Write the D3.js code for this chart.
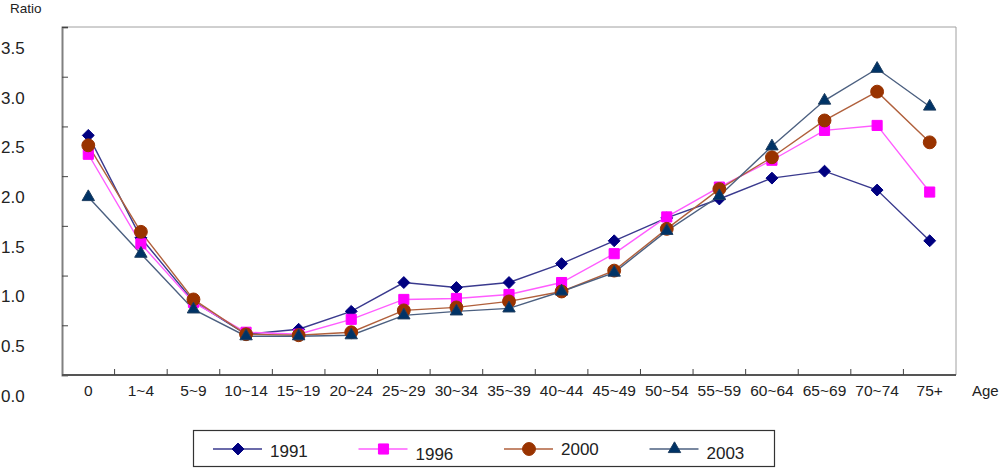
<!DOCTYPE html>
<html lang="en">
<head>
    <meta charset="UTF-8">
    <title>Ratio by age</title>
    <script src="https://d3js.org/d3.v7.min.js"></script>
    <style>
        body { margin: 0; background: #fff; }
        text { font-family: "Liberation Sans", Arial, sans-serif; fill: #222; }
    </style>
</head>
<body>

<script>
    // categories and tick labels
    ages = ["0", "1~4", "5~9", "10~14", "15~19", "20~24", "25~29", "30~34", "35~39",
            "40~44", "45~49", "50~54", "55~59", "60~64", "65~69", "70~74", "75+"]
    yTicks = [0, 0.5, 1.0, 1.5, 2.0, 2.5, 3.0, 3.5]
    years = ["1991", "1996", "2000", "2003"]

    // series values
    v1991 = [2.41, 1.38, 0.74, 0.41, 0.46, 0.64, 0.93, 0.88, 0.93, 1.12, 1.35, 1.58, 1.77, 1.98, 2.05, 1.86, 1.35]
    v1996 = [2.22, 1.32, 0.73, 0.43, 0.41, 0.56, 0.76, 0.77, 0.81, 0.93, 1.22, 1.59, 1.89, 2.16, 2.46, 2.51, 1.84]
    v2000 = [2.31, 1.44, 0.76, 0.41, 0.40, 0.43, 0.65, 0.68, 0.74, 0.84, 1.05, 1.47, 1.87, 2.19, 2.56, 2.85, 2.34]
    v2003 = [1.79, 1.22, 0.66, 0.39, 0.39, 0.40, 0.60, 0.64, 0.67, 0.84, 1.03, 1.45, 1.80, 2.30, 2.76, 3.08, 2.70]

    series = [
        {name: years[0], values: v1991, line: "#3a3a8e", fill: "#000080", stroke: "#000080", symbol: d3.symbolDiamond2, size: 90},
        {name: years[1], values: v1996, line: "#ff5cff", fill: "#ff00ff", stroke: "#ff00ff", symbol: d3.symbolSquare2, size: 130},
        {name: years[2], values: v2000, line: "#b0603c", fill: "#993300", stroke: "#993300", symbol: d3.symbolCircle, size: 130},
        {name: years[3], values: v2003, line: "#4c6080", fill: "#003366", stroke: "#1d3d60", symbol: d3.symbolTriangle2, size: 110}
    ]

    //chart dimensions
    w = 1000
    h = 468
    margin = {top: 27, right: 44, bottom: 93, left: 62}
    width = w - margin.left - margin.right
    height = h - margin.top - margin.bottom

    root = d3.select("body")
        .append("svg")
        .attr("width", w)
        .attr("height", h)

    svg = root.append("g")
        .attr("transform", "translate(" + margin.left + "," + margin.top + ")")

    //scales
    x = d3.scaleBand()
        .domain(ages)
        .range([0, width])

    y = d3.scaleLinear()
        .domain([0, 3.5])
        .range([height, 0])

    // frame (top and right, light)
    svg.append("path")
        .attr("d", "M0,0H" + width + "V" + height)
        .attr("fill", "none")
        .attr("stroke", "#a0a0a0")
        .attr("stroke-width", 1)

    // left axis: ticks point inside, labels sit lower than their ticks
    yAxis = svg.append("g")
        .call(d3.axisRight(y).tickValues(yTicks).tickSize(6).tickFormat(d3.format(".1f")))
    yAxis.select(".domain").attr("stroke", "#808080").attr("stroke-width", 2)
    yAxis.selectAll(".tick line").attr("stroke", "#444")
    yAxis.selectAll(".tick text")
        .attr("x", -61)
        .attr("dy", "1.55em")
        .attr("text-anchor", "start")
        .style("font-size", "17px")
        .style("font-family", "Liberation Sans, Arial, sans-serif")
        .attr("fill", "#222")

    // bottom axis: ticks between categories, pointing up
    xAxis = svg.append("g")
        .attr("transform", "translate(0," + height + ")")
    xAxis.append("line")
        .attr("x1", 0).attr("x2", width)
        .attr("stroke", "#555").attr("stroke-width", 2)
    xAxis.selectAll("line.tk")
        .data(ages.slice(1))
        .join("line")
        .attr("class", "tk")
        .attr("x1", d => x(d)).attr("x2", d => x(d))
        .attr("y1", 0).attr("y2", -6)
        .attr("stroke", "#444")
    xAxis.selectAll("text")
        .data(ages)
        .join("text")
        .attr("x", d => x(d) + x.bandwidth() / 2)
        .attr("y", 21)
        .attr("text-anchor", "middle")
        .style("font-size", "15.5px")
        .text(d => d)

    // axis titles
    root.append("text")
        .attr("x", 10).attr("y", 13)
        .style("font-size", "13.5px")
        .text("Ratio")
    root.append("text")
        .attr("x", 972).attr("y", 396)
        .style("font-size", "15px")
        .text("Age")

    // lines
    line = d3.line()
        .x((d, i) => x(ages[i]) + x.bandwidth() / 2)
        .y(d => y(d))

    svg.selectAll("path.series")
        .data(series)
        .join("path")
        .attr("class", "series")
        .attr("fill", "none")
        .attr("stroke", d => d.line)
        .attr("stroke-width", 1.4)
        .attr("d", d => line(d.values))

    // markers
    series.forEach(s => {
        svg.append("g")
            .selectAll("path")
            .data(s.values)
            .join("path")
            .attr("transform", (d, i) => "translate(" + (x(ages[i]) + x.bandwidth() / 2) + "," + y(d) + ")")
            .attr("d", d3.symbol().type(s.symbol).size(s.size))
            .attr("fill", s.fill)
            .attr("stroke", s.stroke)
            .attr("stroke-width", 1)
    })

    // legend
    legend = root.append("g")
    legend.append("rect")
        .attr("x", 193.5).attr("y", 430.5)
        .attr("width", 581).attr("height", 36)
        .attr("fill", "#fff")
        .attr("stroke", "#333")
        .attr("stroke-width", 1.2)

    item = legend.selectAll("g.item")
        .data(series)
        .join("g")
        .attr("class", "item")
        .attr("transform", (d, i) => "translate(" + (213 + i * 145.5) + ",449)")
    item.append("line")
        .attr("x1", 0).attr("x2", 49)
        .attr("stroke", d => d.line)
        .attr("stroke-width", 1.4)
    item.append("path")
        .attr("transform", "translate(25,0)")
        .attr("d", d => d3.symbol().type(d.symbol).size(d.size)())
        .attr("fill", d => d.fill)
        .attr("stroke", d => d.stroke)
    item.append("text")
        .attr("x", 57)
        .attr("y", (d, i) => [8, 11, 6, 10][i])
        .style("font-size", "17px")
        .text(d => d.name)
</script>

</body>
</html>
